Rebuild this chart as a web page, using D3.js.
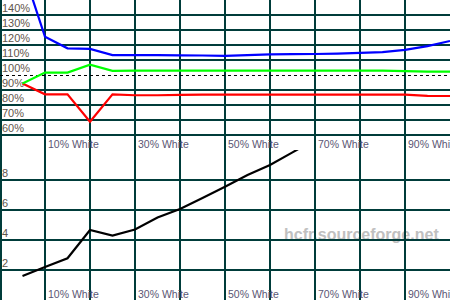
<!DOCTYPE html>
<html lang="en">
<head>
    <meta charset="UTF-8">
    <title>HCFR gray scale</title>
    <style>
        body { margin: 0; background: #fff; }
        svg { display: block; font-family: "Liberation Sans", Arial, sans-serif; }
    </style>
</head>
<script src="https://d3js.org/d3.v7.min.js"></script>
<body>
<svg width="450" height="300" class="chart"></svg>

<script>
    // measurement steps (% white)
    var steps = [5, 10, 15, 20, 25, 30, 35, 40, 45, 50, 55, 60, 65, 70, 75, 80, 85, 90, 95, 100];
    // RGB levels, %
    var red   = [94.4, 87.1, 87.1, 68.9, 87.1, 86.5, 86.5, 86.8, 86.9, 86.9, 86.9, 86.9, 86.9, 86.9, 86.9, 86.9, 86.9, 86.9, 86.1, 86.0];
    var green = [94.4, 101.6, 101.6, 106.9, 102.8, 102.9, 102.9, 102.9, 102.9, 102.9, 102.9, 102.9, 102.9, 102.9, 102.9, 102.9, 102.9, 102.6, 102.2, 102.2];
    var blue  = [171, 125.5, 117.8, 117.4, 113.3, 113.2, 113.2, 113.1, 113.0, 112.8, 113.3, 113.8, 113.9, 114.0, 114.3, 114.8, 115.3, 116.7, 119.3, 122.7];
    // lower plot (black curve), goes off the top after 65%
    var lowSteps = [5, 10, 15, 20, 25, 30, 35, 40, 45, 50, 55, 60, 65, 70];
    var lowValues = [1.6, 2.2, 2.78, 4.67, 4.3, 4.7, 5.5, 6.07, 6.8, 7.55, 8.33, 9.0, 9.84, 10.7];

    var xTicks = [10, 20, 30, 40, 50, 60, 70, 80, 90];
    var xLabels = [10, 30, 50, 70, 90];
    var topTicks = [60, 70, 80, 90, 100, 110, 120, 130, 140];
    var lowTicks = [2, 4, 6, 8];

    var gridColor = "#003c3a";

    var svg = d3.select("svg.chart"),
        width = +svg.attr("width"),
        height = +svg.attr("height"),
        half = height / 2;

    var x = d3.scaleLinear().domain([0, 100]).range([0, width]);
    var yTop = d3.scaleLinear().domain([50, 150]).range([half, 0]);
    var yLow = d3.scaleLinear().domain([0, 10]).range([height, half]);

    svg.append("defs").append("clipPath").attr("id", "lowclip")
        .append("rect").attr("x", 0).attr("y", half).attr("width", width).attr("height", half);

    // watermark sits under the grid
    svg.append("text")
        .attr("x", 284)
        .attr("y", 240)
        .attr("font-size", "16px")
        .attr("font-weight", "bold")
        .attr("fill", "#c0c0c0")
        .text("hcfr.sourceforge.net");

    var grid = svg.append("g").attr("stroke", gridColor).attr("stroke-width", 2);

    // vertical grid, full height
    grid.selectAll(".vline")
        .data([0].concat(xTicks))
        .enter().append("line")
        .attr("class", "vline")
        .attr("x1", function (d) { return Math.max(1, x(d)); })
        .attr("x2", function (d) { return Math.max(1, x(d)); })
        .attr("y1", 0)
        .attr("y2", height);

    // horizontal grid, top plot (100% is dashed instead)
    grid.selectAll(".htop")
        .data(topTicks.filter(function (d) { return d !== 100; }))
        .enter().append("line")
        .attr("class", "htop")
        .attr("x1", 0).attr("x2", width)
        .attr("y1", function (d) { return yTop(d); })
        .attr("y2", function (d) { return yTop(d); });

    grid.selectAll(".hlow")
        .data(lowTicks)
        .enter().append("line")
        .attr("class", "hlow")
        .attr("x1", 0).attr("x2", width)
        .attr("y1", function (d) { return yLow(d); })
        .attr("y2", function (d) { return yLow(d); });

    svg.append("line")
        .attr("x1", 0).attr("x2", width)
        .attr("y1", yTop(100) + 0.5).attr("y2", yTop(100) + 0.5)
        .attr("stroke", "#000")
        .attr("stroke-width", 1)
        .attr("stroke-dasharray", "3,3");

    // y labels
    svg.selectAll(".ytop")
        .data(topTicks)
        .enter().append("text")
        .attr("class", "ytop")
        .attr("x", 2)
        .attr("y", function (d) { return yTop(d) - 3; })
        .attr("font-size", "11px")
        .attr("fill", "#5f554b")
        .text(function (d) { return d + "%"; });

    svg.selectAll(".ylow")
        .data(lowTicks)
        .enter().append("text")
        .attr("class", "ylow")
        .attr("x", 2)
        .attr("y", function (d) { return yLow(d) - 3; })
        .attr("font-size", "11px")
        .attr("fill", "#5f554b")
        .text(function (d) { return d; });

    // x labels under each plot (last one runs off the right edge, as in the original)
    [half - 2, height - 2].forEach(function (base) {
        svg.append("g").selectAll("text")
            .data(xLabels)
            .enter().append("text")
            .attr("x", function (d) { return x(d) + 3; })
            .attr("y", base)
            .attr("font-size", "10.5px")
            .attr("fill", "#5a5674")
            .text(function (d) { return d + "% White"; });
    });

    var lineTop = d3.line()
        .x(function (d) { return x(d[0]); })
        .y(function (d) { return yTop(d[1]); });

    [[red, "#ff0000"], [green, "#00ff00"], [blue, "#0000ff"]].forEach(function (s) {
        svg.append("path")
            .datum(d3.zip(steps, s[0]))
            .attr("fill", "none")
            .attr("stroke", s[1])
            .attr("stroke-width", 2.2)
            .attr("d", lineTop);
    });

    var lineLow = d3.line()
        .x(function (d) { return x(d[0]); })
        .y(function (d) { return yLow(d[1]); });

    svg.append("path")
        .datum(d3.zip(lowSteps, lowValues))
        .attr("clip-path", "url(#lowclip)")
        .attr("fill", "none")
        .attr("stroke", "#000")
        .attr("stroke-width", 2.2)
        .attr("d", lineLow);
</script>
</body>
</html>
